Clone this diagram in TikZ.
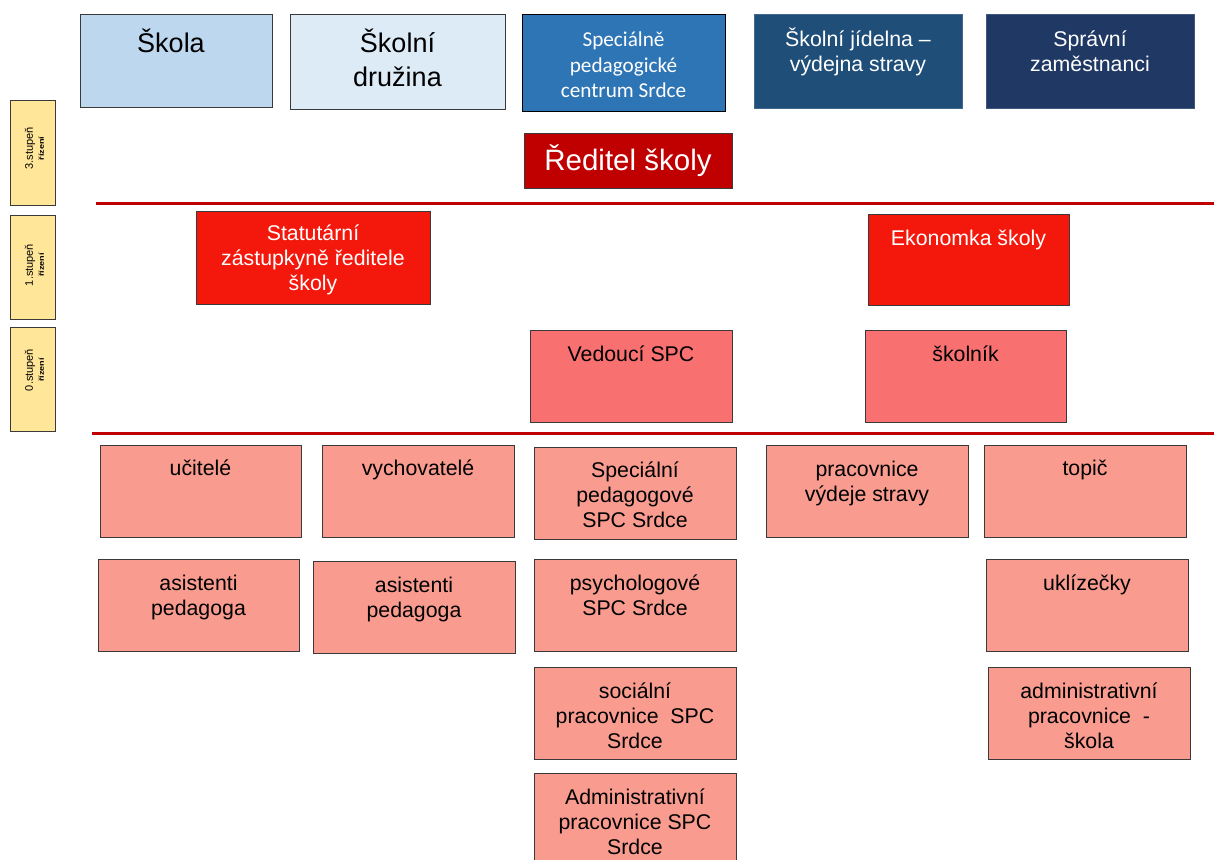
\documentclass[tikz,border=0pt]{standalone}
\usepackage{fontspec}
\setmainfont{Liberation Sans}
\newfontfamily\calfont{Carlito}
\definecolor{cSkola}{HTML}{BDD7EE}
\definecolor{cDruz}{HTML}{DDEBF7}
\definecolor{cSpc}{HTML}{2E75B6}
\definecolor{cJid}{HTML}{1F4E79}
\definecolor{cSpr}{HTML}{203864}
\definecolor{cRed}{HTML}{C00000}
\definecolor{cLev1}{HTML}{F4180C}
\definecolor{cLev0}{HTML}{F97070}
\definecolor{cStaff}{HTML}{F99C8F}
\definecolor{cYel}{HTML}{FFE699}
\definecolor{cEdge}{HTML}{3A3A3A}
\tikzset{
  base/.style={rectangle, inner sep=0pt, outer sep=0pt, line width=1pt},
  skolabox/.style={base, draw=cEdge, fill=cSkola},
  druzbox/.style={base, draw=cEdge, fill=cDruz},
  spcbox/.style={base, draw=black, fill=cSpc},
  jidbox/.style={base, draw=cJid!85!white, fill=cJid},
  sprbox/.style={base, draw=cSpr!85!white, fill=cSpr},
  redbox/.style={base, draw=cEdge, fill=cRed},
  lev1box/.style={base, draw=cEdge, fill=cLev1},
  lev0box/.style={base, draw=cEdge, fill=cLev0},
  staffbox/.style={base, draw=cEdge, fill=cStaff},
  yelbox/.style={base, draw=cEdge, fill=cYel},
  txt/.style={align=center, inner sep=0pt, anchor=north, font=\fontsize{21.3}{25}\selectfont},
  toptxt/.style={txt, font=\fontsize{27}{34}\selectfont},
  caltxt/.style={txt, text=white, font=\calfont\fontsize{21.2}{25.5}\selectfont},
  whitetxt/.style={txt, text=white},
  levtxt/.style={rotate=90, align=center, inner sep=0pt},
  sepline/.style={draw=cRed, line width=3pt},
}
\newcommand\levlabel[1]{\fontsize{11}{12}\selectfont #1\\[-1pt]\fontsize{7}{8}\selectfont\bfseries\scalebox{1.3}[1]{řízení}}
% name, x1, y1, x2, y2, box style, text style, text
\newcommand\bx[8]{%
  \node[#6, minimum width={(#4-#2)*1pt}, minimum height={(#5-#3)*1pt}] (#1) at ({(#2+#4)/2},{(#3+#5)/2}) {};
  \node[#7] (#1-t) at (#1.north) {#8};
}
\begin{document}
\begin{tikzpicture}[x=1pt, y=-1pt]
\useasboundingbox (0,0) rectangle (1214,859);
% top row
\bx{skola}{80}{15}{272}{107}{skolabox}{toptxt, yshift=-14pt, xshift=-5pt}{Škola}
\bx{druzina}{290}{15}{505}{109}{druzbox}{toptxt, yshift=-14pt}{Školní\\družina}
\bx{spc}{522}{15}{725}{111}{spcbox}{caltxt, yshift=-17pt}{Speciálně\\pedagogické\\centrum Srdce}
\bx{jidelna}{754}{15}{962}{108}{jidbox}{whitetxt, yshift=-13pt}{Školní jídelna –\\výdejna stravy}
\bx{spravni}{986}{15}{1194}{108}{sprbox}{whitetxt, yshift=-16pt}{Správní\\zaměstnanci}
% director
\node[redbox, minimum width=208pt, minimum height=55pt, text=white, font=\fontsize{29.5}{34}\selectfont] (reditel) at (628,160.5) {Ředitel školy};
% separator lines
\coordinate (l1a) at (96,203);
\coordinate (l1b) at (1214,203);
\coordinate (l2a) at (92,433);
\coordinate (l2b) at (1214,433);
\draw[sepline] (l1a) -- (l1b);
\draw[sepline] (l2a) -- (l2b);
% level 1
\bx{statut}{196}{211}{430}{304}{lev1box}{whitetxt, yshift=-14pt}{Statutární\\zástupkyně ředitele\\školy}
\bx{ekonom}{868}{214}{1069}{305}{lev1box}{whitetxt, yshift=-16pt}{Ekonomka školy}
% level 0
\bx{vedouci}{530}{330}{732}{422}{lev0box}{txt, yshift=-16pt}{Vedoucí SPC}
\bx{skolnik}{865}{330}{1066}{422}{lev0box}{txt, yshift=-16pt}{školník}
% staff
\bx{ucitele}{100}{445}{301}{537}{staffbox}{txt, yshift=-15pt}{učitelé}
\bx{vychov}{322}{445}{514}{537}{staffbox}{txt, yshift=-15pt}{vychovatelé}
\bx{specped}{534}{447}{736}{539}{staffbox}{txt, yshift=-15pt}{Speciální\\pedagogové\\SPC Srdce}
\bx{vydej}{766}{445}{968}{537}{staffbox}{txt, yshift=-16pt}{pracovnice\\výdeje stravy}
\bx{topic}{984}{445}{1186}{537}{staffbox}{txt, yshift=-15pt}{topič}
\bx{asist1}{98}{559}{299}{651}{staffbox}{txt, yshift=-16pt}{asistenti\\pedagoga}
\bx{asist2}{313}{561}{515}{653}{staffbox}{txt, yshift=-16pt}{asistenti\\pedagoga}
\bx{psych}{534}{559}{736}{651}{staffbox}{txt, yshift=-16pt}{psychologové\\SPC Srdce}
\bx{uklid}{986}{559}{1188}{651}{staffbox}{txt, yshift=-16pt}{uklízečky}
\bx{social}{534}{667}{736}{759}{staffbox}{txt, yshift=-16pt}{sociální\\pracovnice\ \ SPC\\Srdce}
\bx{adminsk}{988}{667}{1190}{759}{staffbox}{txt, yshift=-16pt}{administrativní\\pracovnice\ \ -\\škola}
\bx{adminspc}{534}{773}{736}{880}{staffbox}{txt, yshift=-16pt}{Administrativní\\pracovnice SPC\\Srdce}
% level labels
\node[yelbox, minimum width=45pt, minimum height=105pt] (st3) at (32.5,152.5) {};
\node[levtxt] (st3-t) at ([xshift=2pt, yshift=4pt]st3.center) {\levlabel{3.stupeň}};
\node[yelbox, minimum width=45pt, minimum height=104pt] (st1) at (32.5,267) {};
\node[levtxt] (st1-t) at ([xshift=2pt, yshift=2pt]st1.center) {\levlabel{1.stupeň}};
\node[yelbox, minimum width=45pt, minimum height=104pt] (st0) at (32.5,379) {};
\node[levtxt] (st0-t) at ([xshift=2pt, yshift=9pt]st0.center) {\levlabel{0.stupeň}};
\end{tikzpicture}
\end{document}
